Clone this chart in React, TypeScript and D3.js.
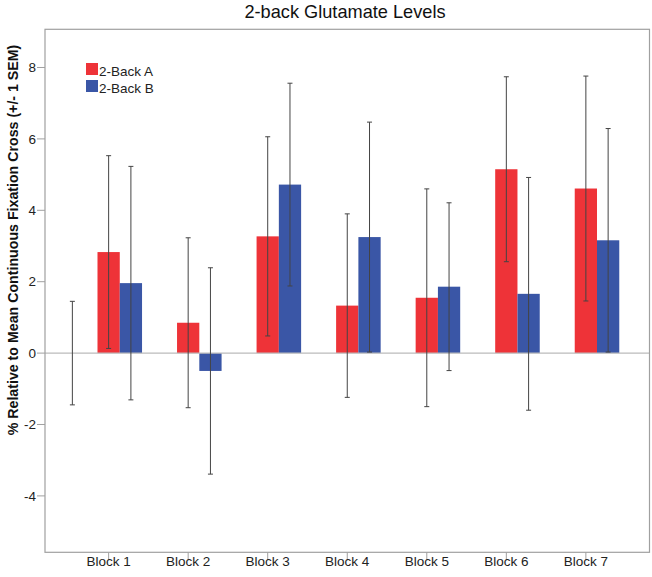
import * as d3 from "d3"

const WIDTH = 652
const HEIGHT = 577
const FRAME = { left: 45, top: 29.3, right: 649.5, bottom: 552.3 }

const blocks = ["Block 1", "Block 2", "Block 3", "Block 4", "Block 5", "Block 6", "Block 7"]
const seriesNames = ["2-Back A", "2-Back B"]
const colors = ["#ee3338", "#3a56a6"]

// means and +/- 1 SEM
const backA = [2.83, 0.85, 3.27, 1.33, 1.55, 5.15, 4.61]
const semA = [2.7, 2.38, 2.79, 2.57, 3.05, 2.59, 3.15]
const backB = [1.96, -0.5, 4.72, 3.25, 1.86, 1.66, 3.16]
const semB = [3.27, 2.89, 2.84, 3.22, 2.35, 3.26, 3.13]

// lone error bar (mean 0) left of Block 1
const baselineMean = 0
const baselineSem = 1.45

const yTicks = [-4, -2, 0, 2, 4, 6, 8]

const FONT = "'Liberation Sans', Arial, sans-serif"

const ErrorBar = ({ x, y0, y1 }: { x: number; y0: number; y1: number }) => (
  <g stroke="#444" strokeWidth={1}>
    <line x1={x} x2={x} y1={y0} y2={y1} />
    <line x1={x - 2.5} x2={x + 2.5} y1={y0} y2={y0} />
    <line x1={x - 2.5} x2={x + 2.5} y1={y1} y2={y1} />
  </g>
)

export default function App() {
  const x = d3
    .scaleBand()
    .domain(blocks)
    .range([FRAME.left, FRAME.right])
    .paddingOuter(0.3)
    .paddingInner(0)

  const y = d3.scaleLinear().domain([-5.58, 9.07]).range([FRAME.bottom, FRAME.top])

  const barW = x.step() * 0.28
  const center = (b: string) => x(b)! + x.bandwidth() / 2

  const series = [
    { name: seriesNames[0], values: backA, sem: semA, color: colors[0], offset: 0 },
    { name: seriesNames[1], values: backB, sem: semB, color: colors[1], offset: barW },
  ]

  const baseX = center(blocks[0]) - x.step() * 0.456

  return (
    <div style={{ position: "absolute", left: 0, top: 0 }}>
      <svg width={WIDTH} height={HEIGHT} fontFamily={FONT}>
        <rect width={WIDTH} height={HEIGHT} fill="#fff" />

        <text x={345} y={18} textAnchor="middle" fontSize={18.2} fill="#111">
          2-back Glutamate Levels
        </text>

        {/* bars */}
        {series.map((s) =>
          s.values.map((v, i) => (
            <rect
              key={s.name + i}
              x={center(blocks[i]) + s.offset - barW / 2}
              width={barW}
              y={Math.min(y(v), y(0))}
              height={Math.abs(y(v) - y(0))}
              fill={s.color}
            />
          ))
        )}

        {/* zero line */}
        <line x1={FRAME.left} x2={FRAME.right} y1={y(0)} y2={y(0)} stroke="#bbb" strokeWidth={1.2} />

        {/* error bars */}
        <ErrorBar x={baseX} y0={y(baselineMean + baselineSem)} y1={y(baselineMean - baselineSem)} />
        {series.map((s) =>
          s.values.map((v, i) => (
            <ErrorBar
              key={s.name + "e" + i}
              x={center(blocks[i]) + s.offset}
              y0={y(v + s.sem[i])}
              y1={y(v - s.sem[i])}
            />
          ))
        )}

        {/* frame */}
        <rect
          x={FRAME.left}
          y={FRAME.top}
          width={FRAME.right - FRAME.left}
          height={FRAME.bottom - FRAME.top}
          fill="none"
          stroke="#a0a0a0"
          strokeWidth={1.2}
        />

        {/* y axis */}
        {yTicks.map((t) => (
          <g key={t}>
            <line x1={FRAME.left - 8} x2={FRAME.left} y1={y(t)} y2={y(t)} stroke="#a0a0a0" />
            <text x={36} y={y(t)} dy="0.35em" textAnchor="end" fontSize={13.5} fill="#222">
              {t}
            </text>
          </g>
        ))}

        {/* x axis */}
        {blocks.map((b) => (
          <g key={b}>
            <line x1={center(b)} x2={center(b)} y1={FRAME.bottom} y2={FRAME.bottom + 8} stroke="#a0a0a0" />
            <text x={center(b)} y={566} textAnchor="middle" fontSize={13.5} fill="#222">
              {b}
            </text>
          </g>
        ))}

        <text
          transform={`translate(18,240) rotate(-90)`}
          textAnchor="middle"
          fontSize={14.2}
          fontWeight="bold"
          fill="#111"
        >
          % Relative to Mean Continuous Fixation Cross (+/- 1 SEM)
        </text>

        {/* legend */}
        {series.map((s, i) => (
          <g key={s.name} transform={`translate(86,${63 + i * 17})`}>
            <rect width={12} height={12} fill={s.color} />
            <text x={13} y={12.5} fontSize={13.5} fill="#222">
              {s.name}
            </text>
          </g>
        ))}
      </svg>
    </div>
  )
}
